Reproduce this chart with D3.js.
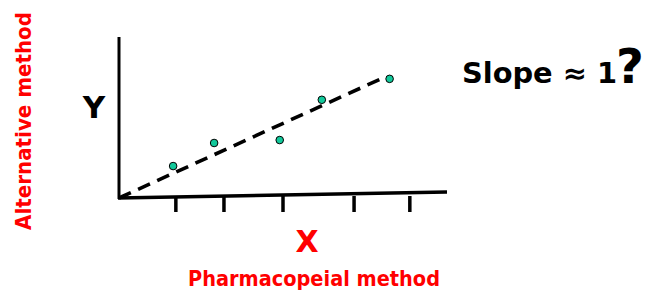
<!DOCTYPE html>
<html>
<head>
<meta charset="utf-8">
<script src="https://cdn.jsdelivr.net/npm/d3@7"></script>
<style>
  body { margin: 0; background: #fff; }
  text { font-family: "Comic Sans MS", "DejaVu Sans", sans-serif; }
</style>
</head>
<body>
<svg></svg>
<script>
var screen = {width: 647, height: 293};

// data (arbitrary units)
var pointsX = [0.99, 1.74, 2.94, 3.71, 4.95];
var pointsY = [1.19, 2.05, 2.16, 3.66, 4.44];
var tickValues = [1.04, 1.92, 3.0, 4.3, 5.32];
var fitLine = [[0, 0], [4.8, 4.45]];
var xAxisEnd = [6, 0.22];

var svg = d3.select("svg")
    .attr("width", screen.width)
    .attr("height", screen.height)

var xScale = d3.scaleLinear()
    .domain([0, 6])
    .range([119, 447])

var yScale = d3.scaleLinear()
    .domain([0, 6])
    .range([198, 37])

// y axis
svg.append("line")
    .attr("x1", xScale(0)).attr("y1", yScale(0) + 1)
    .attr("x2", xScale(0)).attr("y2", yScale(6))
    .attr("stroke", "black")
    .attr("stroke-width", 3)

// x axis (slightly tilted as in the sketch)
svg.append("line")
    .attr("x1", xScale(0) - 1).attr("y1", yScale(0))
    .attr("x2", xScale(xAxisEnd[0])).attr("y2", yScale(xAxisEnd[1]))
    .attr("stroke", "black")
    .attr("stroke-width", 3.5)

svg.selectAll(".tick")
    .data(tickValues)
    .enter()
    .append("line")
    .classed("tick", true)
    .attr("x1", function(d) { return xScale(d) })
    .attr("x2", function(d) { return xScale(d) })
    .attr("y1", 196)
    .attr("y2", 212)
    .attr("stroke", "black")
    .attr("stroke-width", 3.5)

// dashed line
svg.append("line")
    .attr("x1", xScale(fitLine[0][0])).attr("y1", yScale(fitLine[0][1]))
    .attr("x2", xScale(fitLine[1][0])).attr("y2", yScale(fitLine[1][1]))
    .attr("stroke", "black")
    .attr("stroke-width", 3.6)
    .attr("stroke-dasharray", "13,8")

svg.selectAll(".dot")
    .data(pointsX)
    .enter()
    .append("circle")
    .classed("dot", true)
    .attr("cx", function(d) { return xScale(d) })
    .attr("cy", function(d, i) { return yScale(pointsY[i]) })
    .attr("r", 3.8)
    .attr("fill", "#12c99b")
    .attr("stroke", "black")
    .attr("stroke-width", 1)

// labels
svg.append("text")
    .attr("x", 94).attr("y", 118)
    .attr("text-anchor", "middle")
    .attr("font-size", 31)
    .attr("font-weight", "bold")
    .text("Y")

svg.append("text")
    .attr("x", 307).attr("y", 252)
    .attr("text-anchor", "middle")
    .attr("font-size", 30)
    .attr("font-weight", "bold")
    .attr("fill", "#ff0000")
    .text("X")

svg.append("text")
    .attr("x", 188).attr("y", 286)
    .attr("font-size", 21)
    .attr("font-weight", "bold")
    .attr("fill", "#ff0000")
    .attr("textLength", 252)
    .attr("lengthAdjust", "spacingAndGlyphs")
    .text("Pharmacopeial method")

svg.append("text")
    .attr("transform", "translate(31,230) rotate(-90)")
    .attr("font-size", 21)
    .attr("font-weight", "bold")
    .attr("fill", "#ff0000")
    .attr("textLength", 218)
    .attr("lengthAdjust", "spacingAndGlyphs")
    .text("Alternative method")

svg.append("text")
    .attr("x", 462).attr("y", 83)
    .attr("font-size", 28)
    .attr("font-weight", "bold")
    .attr("textLength", 155)
    .attr("lengthAdjust", "spacingAndGlyphs")
    .text("Slope \u2248 1")

svg.append("text")
    .attr("x", 616).attr("y", 83)
    .attr("font-size", 48)
    .attr("font-weight", "bold")
    .text("?")
</script>
</body>
</html>
